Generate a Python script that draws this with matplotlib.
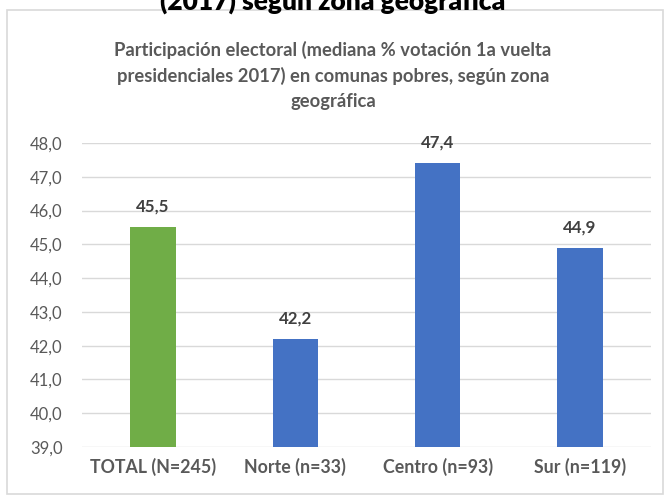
import matplotlib.pyplot as plt
from matplotlib.patches import Rectangle

categories = ["TOTAL (N=245)", "Norte (n=33)", "Centro (n=93)", "Sur (n=119)"]
values = [45.5, 42.2, 47.4, 44.9]
colors = ["#70AD47", "#4472C4", "#4472C4", "#4472C4"]
yticks = [39, 40, 41, 42, 43, 44, 45, 46, 47, 48]

plt.rcParams['font.family'] = ['Lato', 'DejaVu Sans']

fig = plt.figure(figsize=(6.66, 4.97), dpi=100)
W, H = 666, 497

# chart frame
fig.patches.append(Rectangle((7 / W, 1 - 494 / H), 656 / W, 484 / H,
                             transform=fig.transFigure, fill=False,
                             edgecolor="#D9D9D9", linewidth=1.2))

# cut-off heading from the page above
fig.text(0.5, 1 - 1 / H, "(2017) según zona geográfica", ha="center", va="center",
         fontsize=19, fontweight="heavy", color="black")

fig.text(0.5, 1 - 75 / H,
         "Participación electoral (mediana % votación 1a vuelta\n"
         "presidenciales 2017) en comunas pobres, según zona\n"
         "geográfica",
         ha="center", va="center", fontsize=13.2, fontweight="bold",
         color="#595959", linespacing=1.55)

ax = fig.add_axes([82 / W, 1 - 447 / H, 569 / W, 304 / H])
x = range(len(categories))
bars = ax.bar(x, values, width=0.32, color=colors, zorder=3)
ax.set_ylim(39, 48)
ax.set_xlim(-0.5, len(categories) - 0.5)
ax.set_yticks(yticks)
ax.set_yticklabels([f"{v:.1f}".replace(".", ",") for v in yticks],
                   fontsize=12, color="#595959")
ax.set_xticks(list(x))
ax.set_xticklabels(categories, fontsize=12.8, fontweight="bold", color="#595959")
ax.tick_params(length=0, pad=8)
ax.tick_params(axis="y", pad=14)
ax.grid(axis="y", color="#D9D9D9", linewidth=1, zorder=0)
for s in ax.spines.values():
    s.set_visible(False)

for b, v in zip(bars, values):
    ax.annotate(f"{v:.1f}".replace(".", ","), (b.get_x() + b.get_width() / 2, v),
                xytext=(0, 9), textcoords="offset points", ha="center", va="bottom",
                fontsize=12.2, fontweight="bold", color="#404040", annotation_clip=False)

fig.savefig("out.png", dpi=100)
